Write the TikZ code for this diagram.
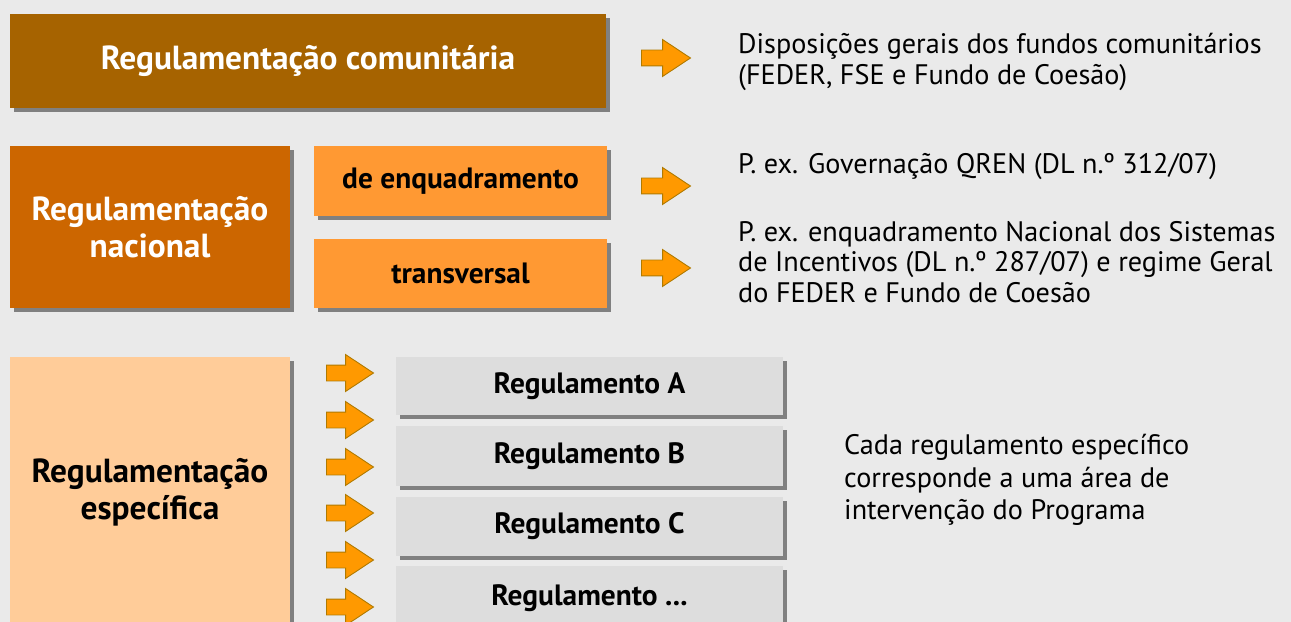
\documentclass[tikz,border=0pt]{standalone}
\usepackage{fontspec}
\setmainfont{PT Sans}
\usetikzlibrary{shapes.arrows,shadows}
\definecolor{bgc}{HTML}{EAEAEA}
\definecolor{brownc}{HTML}{A66300}
\definecolor{natc}{HTML}{CC6600}
\definecolor{subc}{HTML}{FF9933}
\definecolor{specc}{HTML}{FFCC99}
\definecolor{regc}{HTML}{DDDDDD}
\definecolor{shadowc}{HTML}{808080}
\definecolor{arrowfill}{HTML}{FF9900}
\definecolor{arrowline}{HTML}{B07A00}
\begin{document}
\begin{tikzpicture}[x=1bp,y=-1bp,
  box/.style={rectangle, inner sep=0pt, draw=none, align=center,
    drop shadow={shadow xshift=4bp,shadow yshift=-4bp,fill=shadowc,opacity=1}},
  bigtxt/.style={font=\fontsize{33.5}{37}\selectfont\bfseries},
  smalltxt/.style={font=\fontsize{29.5}{32}\selectfont\bfseries},
  note/.style={anchor=west, inner sep=0pt, align=left, font=\fontsize{28.3}{30.5}\selectfont},
  arr/.style={single arrow, anchor=tail, draw=arrowline, fill=arrowfill, line width=0.9bp,
    minimum height=49bp, minimum width=36bp, single arrow head extend=10.5bp,
    single arrow tip angle=67, inner xsep=0pt, inner ysep=7.5bp},
  sarr/.style={arr, minimum height=47bp}
]
\useasboundingbox[fill=bgc] (0,0) rectangle (1291,622);

% top
\node[box, fill=brownc, text=white, bigtxt, minimum width=596bp, minimum height=94bp]
  (com) at (308,61) {Regulamentação comunitária};
\node[arr] (a1) at (641,58) {};
\node[note] (t1) at (738,62) {Disposições gerais dos fundos comunitários\\(FEDER, FSE e Fundo de Coesão)};

% national
\node[box, fill=natc, text=white, bigtxt, minimum width=280bp, minimum height=162bp]
  (nac) at (150,227) {Regulamentação\\nacional};
\node[box, fill=subc, smalltxt, minimum width=293bp, minimum height=70bp]
  (enq) at (460.5,181) {de enquadramento};
\node[box, fill=subc, smalltxt, minimum width=293bp, minimum height=69bp]
  (tra) at (460.5,273.5) {transversal};
\node[arr] (a2) at (641,186) {};
\node[arr] (a3) at (641,268) {};
\node[note] (t2) at (738,167) {P. ex. Governação QREN (DL n.º 312/07)};
\node[note] (t3) at (738,262) {P. ex. enquadramento Nacional dos Sistemas\\de Incentivos (DL n.º 287/07) e regime Geral\\do FEDER e Fundo de Coesão};

% specific
\node[box, fill=specc, bigtxt, minimum width=280bp, minimum height=270bp]
  (esp) at (150,492) {Regulamentação\\específica};
\foreach \i/\y in {1/373,2/420,3/467,4/513,5/560,6/607}{
  \node[sarr] (s\i) at (326,\y) {};
}
\node[box, fill=regc, smalltxt, minimum width=387bp, minimum height=58bp] (ra) at (589.5,386) {Regulamento A};
\node[box, fill=regc, smalltxt, minimum width=387bp, minimum height=60bp] (rb) at (589.5,456) {Regulamento B};
\node[box, fill=regc, smalltxt, minimum width=387bp, minimum height=59bp] (rc) at (589.5,526.5) {Regulamento C};
\node[box, fill=regc, smalltxt, minimum width=387bp, minimum height=64bp] (rd) at (589.5,598) {Regulamento ...};
\node[note, font=\fontsize{28.3}{32.5}\selectfont] (t4) at (844,480) {Cada regulamento específico\\corresponde a uma área de\\intervenção do Programa};
\end{tikzpicture}
\end{document}
